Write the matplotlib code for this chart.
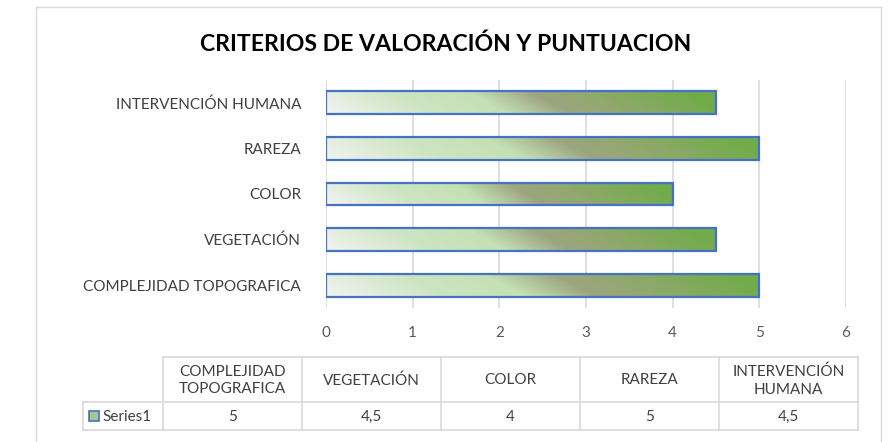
import matplotlib
matplotlib.use("Agg")
import matplotlib.pyplot as plt
import numpy as np
from matplotlib.colors import LinearSegmentedColormap
from matplotlib.patches import Rectangle
from matplotlib.lines import Line2D

plt.rcParams['font.family'] = ['Lato', 'DejaVu Sans']

# data
categories = ["COMPLEJIDAD TOPOGRAFICA", "VEGETACIÓN", "COLOR", "RAREZA", "INTERVENCIÓN HUMANA"]
table_headers = ["COMPLEJIDAD\nTOPOGRAFICA", "VEGETACIÓN", "COLOR", "RAREZA", "INTERVENCIÓN\nHUMANA"]
values = [5, 4.5, 4, 5, 4.5]
series_name = "Series1"
title = "CRITERIOS DE VALORACIÓN Y PUNTUACION"
xticks = [0, 1, 2, 3, 4, 5, 6]

W, H = 891, 442
fig = plt.figure(figsize=(W / 100, H / 100), dpi=100)


def fx(x):
    return x / W


def fy(y):
    return 1 - y / H


# chart frame (bottom is cut off in the reference)
frame_col = "#d9d9d9"
fig.add_artist(Line2D([fx(36), fx(36)], [fy(7), 0], color=frame_col, lw=1))
fig.add_artist(Line2D([fx(881), fx(881)], [fy(7), 0], color=frame_col, lw=1))
fig.add_artist(Line2D([fx(36), fx(881)], [fy(7), fy(7)], color=frame_col, lw=1))

fig.text(fx(446), fy(44), title, ha="center", va="center", fontsize=16.6,
         fontweight="bold", color="#000000")

ax = fig.add_axes([fx(326), fy(308), fx(846) - fx(326), (308 - 80) / H])
ax.set_xlim(0, 6)
ax.set_ylim(-0.5, len(categories) - 0.5)
for s in ax.spines.values():
    s.set_visible(False)
ax.set_xticks(xticks)
ax.set_xticklabels([str(t) for t in xticks], fontsize=11, color="#595959")
ax.set_yticks(range(len(categories)))
ax.set_yticklabels(categories, fontsize=11, color="#404040")
ax.tick_params(axis="x", length=0, pad=13)
ax.tick_params(axis="y", length=0, pad=18)
ax.grid(axis="x", color="#d9d9d9", lw=1.2)
ax.set_axisbelow(True)

# gradient fill
stops = [(0.0, "#f2f4f2"), (0.25, "#cde4c1"), (0.42, "#c5e0b4"), (0.57, "#9ca57f"),
         (0.68, "#93a871"), (0.93, "#73ac4b"), (1.0, "#70ad47")]
cmap = LinearSegmentedColormap.from_list("grad", stops)
nx, ny = 300, 30
u = np.linspace(0, 1, nx)[None, :]
w = np.linspace(0, 1, ny)[:, None]
t = (u + 0.1 * w) / 1.1
grad = cmap(t)

bars = ax.barh(range(len(categories)), values, height=0.5, facecolor="none",
               edgecolor="#4472c4", lw=1.6, zorder=3)
for b in bars:
    x0, y0 = b.get_x(), b.get_y()
    bw, bh = b.get_width(), b.get_height()
    im = ax.imshow(grad, extent=(x0, x0 + bw, y0 + bh, y0), aspect="auto",
                   origin="upper", zorder=2, interpolation="bilinear")
    clip = Rectangle((x0, y0), bw, bh, transform=ax.transData)
    im.set_clip_path(clip)
ax.set_xlim(0, 6)
ax.set_ylim(-0.5, len(categories) - 0.5)

# data table
tcol = "#d9d9d9"
col_left = 163
col_w = 139
row_top, row_mid, row_bot = 357, 402, 430
legend_left = 83
right = col_left + col_w * len(table_headers)


def hline(x0, x1, y):
    fig.add_artist(Line2D([fx(x0), fx(x1)], [fy(y), fy(y)], color=tcol, lw=1.2))


def vline(x, y0, y1):
    fig.add_artist(Line2D([fx(x), fx(x)], [fy(y0), fy(y1)], color=tcol, lw=1.2))


hline(col_left, right, row_top)
hline(legend_left, right, row_mid)
hline(legend_left, right, row_bot)
vline(legend_left, row_mid, row_bot)
for i in range(len(table_headers) + 1):
    vline(col_left + i * col_w, row_top, row_bot)

for i, (h, v) in enumerate(zip(table_headers, values)):
    cx = col_left + (i + 0.5) * col_w
    fig.text(fx(cx), fy((row_top + row_mid) / 2 + 1), h, ha="center", va="center",
             fontsize=11, color="#404040", linespacing=1.35)
    fig.text(fx(cx), fy((row_mid + row_bot) / 2 + 1), str(v).replace(".", ","),
             ha="center", va="center", fontsize=11, color="#404040")

# legend key
fig.add_artist(Rectangle((fx(89), fy(421)), fx(99) - fx(89), fy(411) - fy(421),
                         facecolor="#a9c98c", edgecolor="#4472c4", lw=1.2,
                         transform=fig.transFigure))
fig.text(fx(102), fy((row_mid + row_bot) / 2 + 1), series_name, ha="left", va="center",
         fontsize=11, color="#404040")

fig.savefig("out.png", dpi=100, facecolor="white")
